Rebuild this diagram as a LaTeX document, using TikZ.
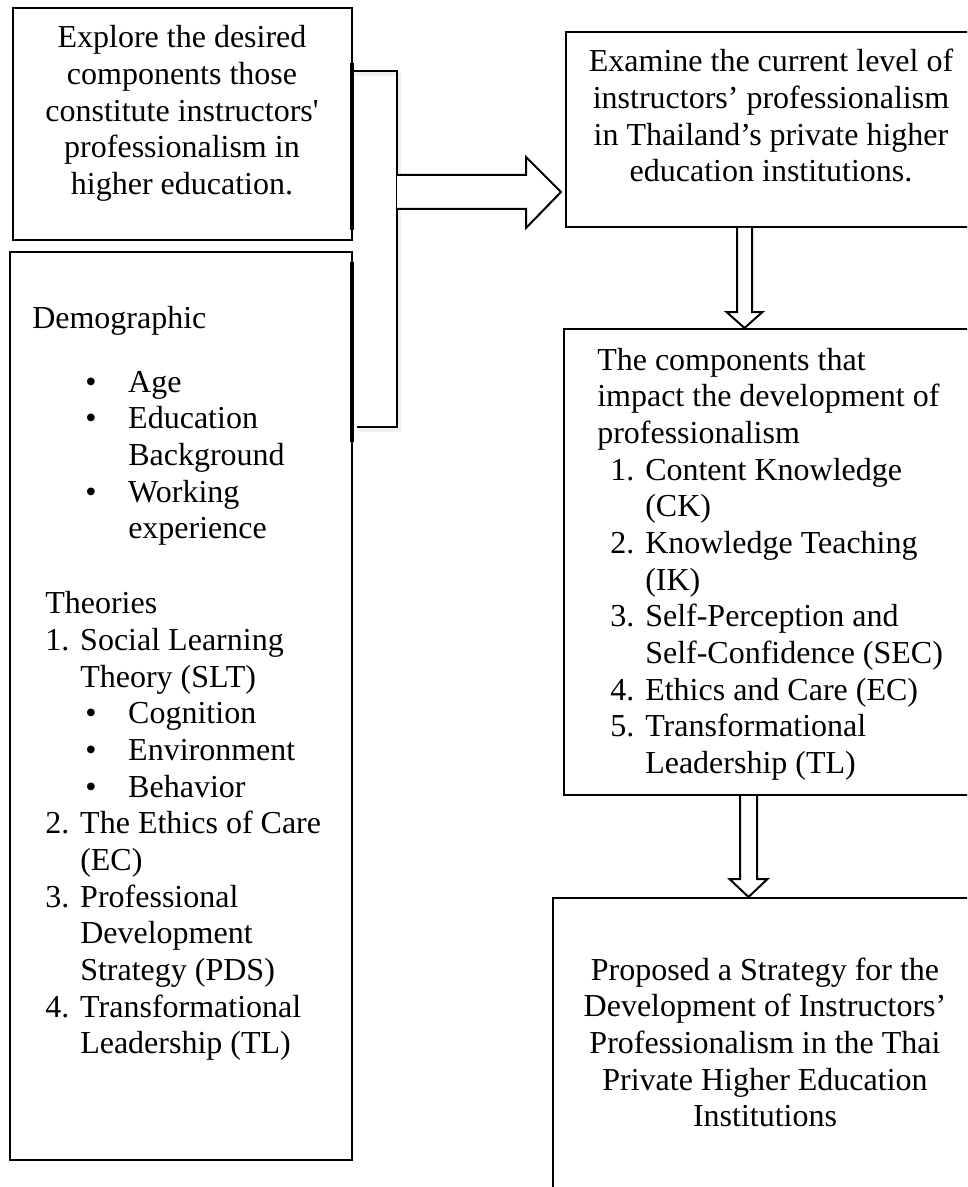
\documentclass[tikz,border=0pt]{standalone}
\usepackage{fontspec}
\setmainfont{Liberation Serif}
\usetikzlibrary{calc,fit}
\newcommand\mybul[1]{\hspace*{39.75pt}\makebox[32.25pt][l]{•}#1}
\newcommand\mynum[2]{\hspace*{9.75pt}\makebox[26.25pt][l]{#1}#2}
\newcommand\mycont[1]{\hspace*{36pt}#1}
\newcommand\mycontb[1]{\hspace*{72pt}#1}
\begin{document}
\begin{tikzpicture}[x=0.75pt,y=-0.75pt,
  box/.style={draw=black, line width=1.5pt, inner sep=0pt},
  txt/.style={inner sep=0pt, font=\fontsize{24}{27.5}\selectfont},
  fat/.style={draw=black, line width=1.5pt, fill=white, line join=miter},
  brk/.style={draw=black, line width=2pt},
  shade/.style={draw=black!6, line width=3pt}]
\useasboundingbox (0,0) rectangle (967,1187);
\clip (0,0) rectangle (967,1187);
\fill[white] (0,0) rectangle (967,1187);

% boxes
\node[box, fit={(13,8) (352,240)}] (b1) {};
\node[box, fit={(10,252) (352,1160)}] (b2) {};
\node[box, fit={(566,32) (1000,227)}] (b3) {};
\node[box, fit={(564,329) (1000,795)}] (b4) {};
\node[box, fit={(553,898) (1000,1230)}] (b5) {};

% texts
\node[txt, anchor=base] (t1) at (182,48) {\parbox[t]{247pt}{\centering Explore the desired\\ components those\\ constitute instructors\textquotesingle\\ professionalism in\\ higher education.}};

\node[txt, anchor=base] (t3) at (771,72) {\parbox[t]{300pt}{\centering Examine the current level of\\ instructors’ professionalism\\ in Thailand’s private higher\\ education institutions.}};

\node[txt, anchor=base west] (t4) at (597,370) {\parbox[t]{300pt}{\raggedright The components that\\ impact the development of\\ professionalism\\ \mynum{1.}{Content Knowledge}\\ \mycont{(CK)}\\ \mynum{2.}{Knowledge Teaching}\\ \mycont{(IK)}\\ \mynum{3.}{Self-Perception and}\\ \mycont{Self-Confidence (SEC)}\\ \mynum{4.}{Ethics and Care (EC)}\\ \mynum{5.}{Transformational}\\ \mycont{Leadership (TL)}}};

\node[txt, anchor=base] (t5) at (765,980) {\parbox[t]{300pt}{\centering Proposed a Strategy for the\\ Development of Instructors’\\ Professionalism in the Thai\\ Private Higher Education\\ Institutions}};

\node[txt, anchor=base west] (t2) at (32,328) {\parbox[t]{300pt}{\raggedright Demographic\\[20.5pt] \mybul{Age}\\ \mybul{Education}\\ \mycontb{Background}\\ \mybul{Working}\\ \mycontb{experience}\\[28.75pt] \hspace*{9.75pt}Theories\\ \mynum{1.}{Social Learning}\\ \mycont{Theory (SLT)}\\ \mybul{Cognition}\\ \mybul{Environment}\\ \mybul{Behavior}\\ \mynum{2.}{The Ethics of Care}\\ \mycont{(EC)}\\ \mynum{3.}{Professional}\\ \mycont{Development}\\ \mycont{Strategy (PDS)}\\ \mynum{4.}{Transformational}\\ \mycont{Leadership (TL)}}};

% bracket joining the two left boxes
\coordinate (bk) at (397,71);
\coordinate (bkb) at (397,427);
\coordinate (ha) at (397,192);
\draw[shade] ($(b1.east |- bk)+(2,3)$) -- ($(bk)+(2,3)$) -- ($(bkb)+(2,3)$) -- ($(b2.east |- bkb)+(6,3)$);
\draw[brk] (b1.east |- bk) -- (bk) -- (bkb) -- ($(b2.east |- bkb)+(4,0)$);
\draw[line width=2.3pt] (352,63) -- (352,230);
\draw[line width=2.3pt] (352,262) -- (352,442);

% horizontal block arrow
\coordinate (tipA) at ($(b3.west |- ha)+(-4,0)$);
\draw[fat] ($(ha)+(0,-17)$) -- ($(tipA)+(-35,-17)$) -- ($(tipA)+(-35,-35)$) -- (tipA) -- ($(tipA)+(-35,36)$) -- ($(tipA)+(-35,17)$) -- ($(ha)+(0,17)$);

% first down block arrow
\coordinate (d1a) at ($(b3.south west)+(179.5,0)$);
\coordinate (d1t) at (d1a |- b4.north);
\draw[fat] ($(d1a)+(-7.5,0)$) -- ($(d1t)+(-7.5,-16)$) -- ($(d1t)+(-18,-16)$) -- (d1t) -- ($(d1t)+(18,-16)$) -- ($(d1t)+(7.5,-16)$) -- ($(d1a)+(7.5,0)$);

% second down block arrow
\coordinate (d2a) at ($(b4.south west)+(185.5,0)$);
\coordinate (d2t) at (d2a |- b5.north);
\draw[fat] ($(d2a)+(-8.5,0)$) -- ($(d2t)+(-8.5,-18)$) -- ($(d2t)+(-19,-18)$) -- (d2t) -- ($(d2t)+(19,-18)$) -- ($(d2t)+(8.5,-18)$) -- ($(d2a)+(8.5,0)$);
\end{tikzpicture}
\end{document}
